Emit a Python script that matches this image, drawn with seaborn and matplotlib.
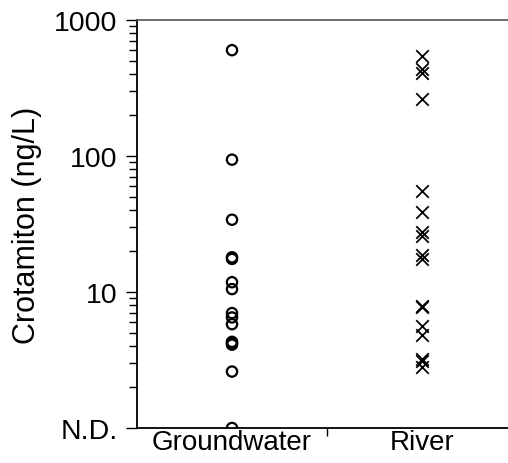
import matplotlib
matplotlib.use("Agg")
import matplotlib.pyplot as plt
import seaborn as sns
import pandas as pd
from matplotlib.ticker import FixedLocator, LogLocator, NullFormatter

# Crotamiton concentrations (ng/L); not-detected samples are placed at 1
categories = ["Groundwater", "River"]
groundwater = [600, 94, 34, 18, 17.5, 11.8, 10.5, 7.0, 6.5, 5.8, 4.3, 4.2, 4.1, 2.6, 1]
river = [546, 437, 407, 263, 55.6, 38.5, 27.5, 26.0, 18.8, 17.5, 7.9, 7.7, 5.6, 4.8, 3.2, 3.1, 2.8]
ytick_values = [1, 10, 100, 1000]
ytick_labels = ["N.D.", "10", "100", "1000"]

sns.set_theme(style="white")
plt.rcParams["font.family"] = ["Liberation Sans", "DejaVu Sans"]
plt.rcParams["text.color"] = "black"
plt.rcParams["axes.labelcolor"] = "black"
plt.rcParams["xtick.color"] = "black"
plt.rcParams["ytick.color"] = "black"

gw_df = pd.DataFrame({"site": categories[0], "conc": groundwater})
rv_df = pd.DataFrame({"site": categories[1], "conc": river})

fig = plt.figure(figsize=(5.08, 4.64), dpi=100)
ax = fig.add_axes([137 / 508, 35 / 464, 380 / 508, 408 / 464])

# Groundwater: open circles
sns.stripplot(data=gw_df, x="site", y="conc", order=categories, jitter=False,
              marker="o", size=7.4, color="black", linewidth=1.6,
              edgecolor="black", ax=ax)
for coll in ax.collections:
    coll.set_facecolor("none")
    coll.set_edgecolor("black")

# River: crosses
sns.stripplot(data=rv_df, x="site", y="conc", order=categories, jitter=False,
              marker="x", size=9.0, color="black", linewidth=1.3, ax=ax)

ax.set_yscale("log")
ax.set_ylim(1, 1000)
ax.set_xlim(-0.5, 1.5)

ax.yaxis.set_major_locator(FixedLocator(ytick_values))
ax.set_yticklabels(ytick_labels)
ax.yaxis.set_minor_locator(LogLocator(base=10, subs=range(2, 10)))
ax.yaxis.set_minor_formatter(NullFormatter())
ax.tick_params(axis="y", which="major", direction="out", length=8, width=1,
               labelsize=20.5, pad=6, left=True)
ax.tick_params(axis="y", which="minor", direction="out", length=6, width=1,
               left=True)

ax.xaxis.set_minor_locator(FixedLocator([0.5]))
ax.tick_params(axis="x", which="major", length=0, labelsize=20, pad=1)
ax.tick_params(axis="x", which="minor", direction="out", length=6, width=1,
               bottom=True)

ax.set_xlabel("")
ax.set_ylabel("Crotamiton (ng/L)", fontsize=22, labelpad=9)

for side in ["left", "bottom"]:
    ax.spines[side].set_color("black")
    ax.spines[side].set_linewidth(1.3)
ax.spines["top"].set_color("#555555")
ax.spines["top"].set_linewidth(1.2)
ax.spines["right"].set_visible(False)

fig.savefig("out.png", dpi=100)
